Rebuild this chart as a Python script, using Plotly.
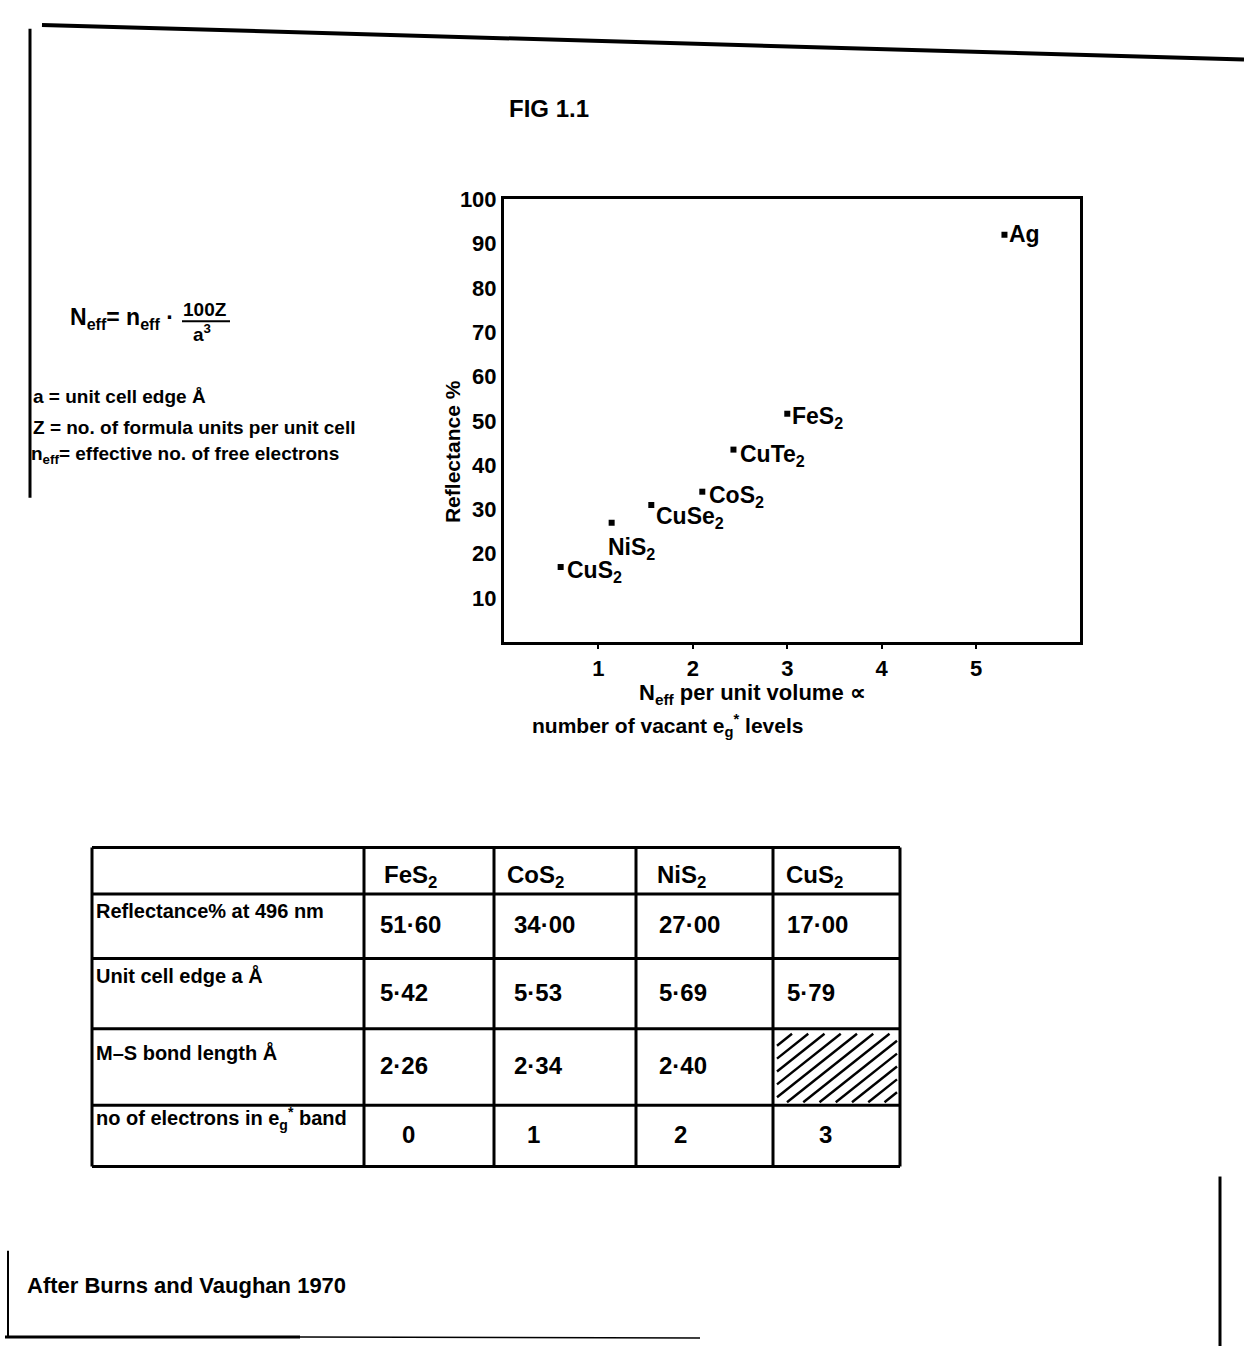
import plotly.graph_objects as go

W, H = 1244, 1346

# ---- scatter: reflectance vs N_eff ----
compounds = ["CuS<sub>2</sub>", "NiS<sub>2</sub>", "CuSe<sub>2</sub>", "CoS<sub>2</sub>",
             "CuTe<sub>2</sub>", "FeS<sub>2</sub>", "Ag"]
n_eff = [0.6, 1.14, 1.56, 2.1, 2.43, 3.0, 5.3]
reflectance = [17.0, 27.0, 31.0, 34.0, 43.5, 51.6, 92.0]
x_ticks = [1, 2, 3, 4, 5]
y_ticks = [10, 20, 30, 40, 50, 60, 70, 80, 90, 100]

# label offsets (pixels) relative to each marker
label_dx = [4, -6, 3, 5, 5, 3, 3]
label_dy = [-4, -26, -13, -5, -6, -4, 1]

# ---- table ----
table_compounds = ["FeS<sub>2</sub>", "CoS<sub>2</sub>", "NiS<sub>2</sub>", "CuS<sub>2</sub>"]
row_labels = ["Reflectance% at 496 nm", "Unit cell edge a Å", "M–S bond length Å",
              "no of electrons in e<sub>g</sub><sup>*</sup> band"]
refl_496 = ["51·60", "34·00", "27·00", "17·00"]
cell_edge = ["5·42", "5·53", "5·69", "5·79"]
bond_length = ["2·26", "2·34", "2·40", None]
eg_electrons = ["0", "1", "2", "3"]

FONT = "Liberation Sans, Arial, sans-serif"


def px(x):
    return x / W


def py(y):
    return 1 - y / H


def font(size):
    return dict(family=FONT, size=size, color="black")


def b(text):
    return "<b>" + text + "</b>"


fig = go.Figure()

fig.add_trace(go.Scatter(
    x=n_eff, y=reflectance, mode="markers",
    marker=dict(symbol="square", size=6, color="black"),
    hoverinfo="skip", showlegend=False,
))

annotations = []
for name, xv, yv, dx, dy in zip(compounds, n_eff, reflectance, label_dx, label_dy):
    annotations.append(dict(
        x=xv, y=yv, xref="x", yref="y", text=b(name), showarrow=False,
        xanchor="left", yanchor="middle", xshift=dx, yshift=dy, font=font(23),
    ))


def paper_text(text, x, y, size, xanchor="left", yanchor="middle", angle=0):
    annotations.append(dict(
        x=px(x), y=py(y), xref="paper", yref="paper", text=b(text), showarrow=False,
        xanchor=xanchor, yanchor=yanchor, font=font(size), textangle=angle,
    ))


# heading and formula notes
paper_text("FIG 1.1", 549, 97, 24, xanchor="center")
paper_text("N<sub>eff</sub>= n<sub>eff</sub> ·", 68, 309, 23)
paper_text("100Z", 205, 300, 19, xanchor="center")
paper_text("a<sup>3</sup>", 202, 324, 19, xanchor="center")
paper_text("a = unit cell edge Å", 31, 388, 19)
paper_text("Z = no. of formula units per unit cell", 31, 419, 19)
paper_text("n<sub>eff</sub>= effective no. of free electrons", 29, 447, 19)

# axis titles
paper_text("Reflectance %", 452, 444, 21, xanchor="center", angle=-90)
paper_text("N<sub>eff</sub> per unit volume ∝", 752, 688, 22, xanchor="center")
paper_text("number of vacant e<sub>g</sub><sup>*</sup> levels", 530, 720, 21)

# source note
paper_text("After Burns and Vaughan 1970", 25, 1285, 22)

shapes = []


def line(x0, y0, x1, y1, w=3):
    shapes.append(dict(type="line", xref="paper", yref="paper",
                       x0=px(x0), y0=py(y0), x1=px(x1), y1=py(y1),
                       line=dict(color="black", width=w)))


# fraction bar
line(182, 312, 230, 312, 2)

# page border lines
line(42, 13, 1244, 48, 4)
line(30, 17, 30, 490, 3)
line(8, 1250, 8, 1336, 2)
line(5, 1337, 300, 1337, 3)
line(300, 1337, 700, 1338, 1.5)
line(1220, 1175, 1220, 1346, 3)

# table grid
col_edges = [92, 364, 494, 636, 773, 900]
row_edges = [843, 890, 955, 1026, 1103, 1165]
for xe in col_edges:
    line(xe, row_edges[0], xe, row_edges[-1], 3)
for ye in row_edges:
    line(col_edges[0], ye, col_edges[-1], ye, 3)

# header row
header_x = [382, 505, 655, 784]
for name, xh in zip(table_compounds, header_x):
    paper_text(name, xh, 872, 24)

# body rows
body = [refl_496, cell_edge, bond_length, eg_electrons]
label_y = [907, 972, 1050, 1116]
value_y = [921, 989, 1063, 1133]
value_x = [378, 512, 657, 785]
count_x = [408, 533, 680, 825]
for i, (label, vals) in enumerate(zip(row_labels, body)):
    paper_text(label, col_edges[0] + 2, label_y[i], 20)
    for j, v in enumerate(vals):
        if v is None:
            # hatched empty cell
            hx0, hx1 = col_edges[j + 1] + 4, col_edges[j + 2] - 3
            hy0, hy1 = row_edges[i + 1] + 5, row_edges[i + 2] - 3
            k = 0.8
            c = k * hx0 + hy0 + 12
            while c < k * hx1 + hy1:
                xs = max(hx0, (c - hy1) / k)
                xe2 = min(hx1, (c - hy0) / k)
                if xe2 > xs:
                    line(xs, c - k * xs, xe2, c - k * xe2, 2.4)
                c += 13
            continue
        if i == 3:
            paper_text(v, count_x[j], value_y[i], 24, xanchor="center")
        else:
            paper_text(v, value_x[j], value_y[i], 24)

fig.update_layout(
    width=W, height=H, autosize=False,
    margin=dict(l=0, r=0, t=0, b=0),
    paper_bgcolor="white", plot_bgcolor="white",
    showlegend=False,
    xaxis=dict(
        domain=[px(504), px(1080)], range=[0, 6.1],
        tickmode="array", tickvals=x_ticks, ticktext=[b(str(t)) for t in x_ticks],
        ticks="outside", ticklen=4, tickwidth=2, tickcolor="black",
        showline=True, linewidth=3, linecolor="black", mirror=True,
        showgrid=False, zeroline=False, tickfont=font(22),
    ),
    yaxis=dict(
        domain=[py(636), py(189)], range=[0, 100],
        tickmode="array", tickvals=y_ticks, ticktext=[b(str(t)) for t in y_ticks],
        ticks="", showline=True, linewidth=3, linecolor="black", mirror=True,
        showgrid=False, zeroline=False, tickfont=font(22),
    ),
    annotations=annotations,
    shapes=shapes,
)

fig.write_html("out.html")
